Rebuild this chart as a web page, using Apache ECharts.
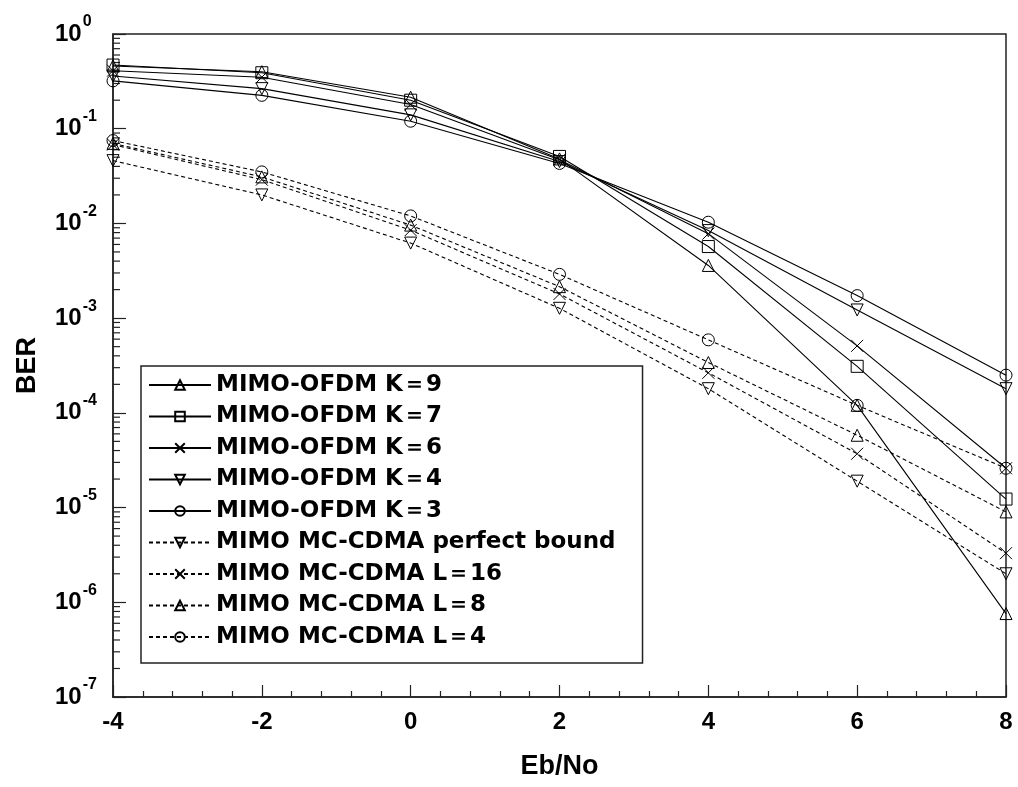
<!DOCTYPE html>
<html>
<head>
<meta charset="utf-8">
<script src="https://cdn.jsdelivr.net/npm/echarts@6/dist/echarts.min.js"></script>
<style>
  html, body { margin: 0; padding: 0; background: #fff; }
  #chart { width: 1018px; height: 787px; }
</style>
</head>
<body>
<div id="chart"></div>
<script>
// Eb/No sample points (dB)
const ebno = [-4, -2, 0, 2, 4, 6, 8];

// BER curves, MIMO-OFDM with K = 9, 7, 6, 4, 3
const ofdmK9 = [0.46, 0.40, 0.215, 0.048, 0.0036, 1.2e-4, 7.6e-7];
const ofdmK7 = [0.47, 0.39, 0.20, 0.051, 0.0057, 3.1e-4, 1.23e-5];
const ofdmK6 = [0.41, 0.35, 0.18, 0.047, 0.0078, 5.1e-4, 2.6e-5];
const ofdmK4 = [0.36, 0.265, 0.14, 0.045, 0.0084, 1.22e-3, 1.8e-4];
const ofdmK3 = [0.32, 0.225, 0.12, 0.043, 0.0103, 1.73e-3, 2.5e-4];

// BER curves, MIMO MC-CDMA
const cdmaPerfect = [0.046, 0.020, 0.0062, 0.00127, 1.8e-4, 1.9e-5, 2.0e-6];
const cdmaL16 = [0.068, 0.029, 0.0085, 0.00180, 2.65e-4, 3.7e-5, 3.3e-6];
const cdmaL8 = [0.070, 0.031, 0.0096, 0.00215, 3.4e-4, 5.8e-5, 9.0e-6];
const cdmaL4 = [0.075, 0.035, 0.012, 0.0029, 5.9e-4, 1.2e-4, 2.6e-5];

const seriesNames = [
  'MIMO-OFDM K\uFF1D9',
  'MIMO-OFDM K\uFF1D7',
  'MIMO-OFDM K\uFF1D6',
  'MIMO-OFDM K\uFF1D4',
  'MIMO-OFDM K\uFF1D3',
  'MIMO MC-CDMA perfect bound',
  'MIMO MC-CDMA L\uFF1D16',
  'MIMO MC-CDMA L\uFF1D8',
  'MIMO MC-CDMA L\uFF1D4'
];

// Decade range of the BER axis
const berMin = 1e-7;
const berMax = 1;

// Intermediate log ticks (2..9 within each decade)
const minorBer = [];
for (let e = -7; e < 0; e++) {
  for (let m = 2; m <= 9; m++) minorBer.push(m * Math.pow(10, e));
}

const CROSS = 'path://M0,0L10,10M10,0L0,10';
const FONT = 'Liberation Sans, Arial, sans-serif';

function curve(name, values, symbol, rotate, dashed) {
  return {
    name: name,
    type: 'line',
    data: ebno.map((x, i) => [x, values[i]]),
    symbol: symbol,
    symbolRotate: rotate,
    symbolSize: 12,
    showSymbol: true,
    clip: false,
    animation: false,
    lineStyle: { color: '#000', width: 1.1, type: dashed ? [4, 3] : 'solid' },
    itemStyle: { color: 'rgba(0,0,0,0)', borderColor: '#000', borderWidth: 1 },
    emphasis: { disabled: true }
  };
}

const chart = echarts.init(document.getElementById('chart'));

chart.setOption({
  backgroundColor: '#fff',
  animation: false,
  grid: {
    left: 113, right: 12, top: 34, bottom: 90,
    show: true, borderColor: '#222', borderWidth: 1.5,
    outerBoundsMode: 'none'
  },
  legend: {
    data: seriesNames,
    orient: 'vertical',
    left: 141, top: 366,
    padding: [7, 27, 14, 7],
    itemWidth: 62, itemHeight: 12, itemGap: 7.5,
    backgroundColor: '#fff',
    borderColor: '#222', borderWidth: 1.5,
    selectedMode: false,
    textStyle: {
      fontFamily: 'DejaVu Sans, sans-serif',
      fontWeight: 'bold', fontSize: 23, color: '#000', lineHeight: 24
    }
  },
  xAxis: {
    type: 'value',
    min: -4, max: 8, interval: 2,
    name: 'Eb/No',
    nameLocation: 'middle',
    nameGap: 56,
    nameTextStyle: { fontFamily: FONT, fontWeight: 'bold', fontSize: 27, color: '#000' },
    axisLine: { onZero: false, lineStyle: { color: '#222', width: 1.5 } },
    axisTick: { inside: true, length: 12, lineStyle: { color: '#222', width: 1.2 } },
    minorTick: { show: true, splitNumber: 5, length: 6, lineStyle: { color: '#222', width: 1.2 } },
    splitLine: { show: false },
    axisLabel: {
      margin: 13,
      fontFamily: FONT, fontWeight: 'bold', fontSize: 24, color: '#000'
    }
  },
  yAxis: {
    type: 'log',
    logBase: 10,
    min: berMin, max: berMax,
    interval: 1,
    splitNumber: 7,
    name: 'BER',
    nameLocation: 'middle',
    nameRotate: 90,
    nameGap: 72,
    nameTextStyle: { fontFamily: FONT, fontWeight: 'bold', fontSize: 27, color: '#000' },
    axisLine: { onZero: false, lineStyle: { color: '#222', width: 1.5 } },
    axisTick: { inside: true, length: 13, lineStyle: { color: '#222', width: 1.2 } },
    splitLine: { show: false },
    axisLabel: {
      margin: 58,
      align: 'left',
      formatter: function (v) {
        const e = Math.round(Math.log10(v));
        return '{b|10}{s|' + e + '}';
      },
      rich: {
        b: { fontFamily: FONT, fontWeight: 'bold', fontSize: 24, color: '#000', lineHeight: 40 },
        s: { fontFamily: FONT, fontWeight: 'bold', fontSize: 16, color: '#000', verticalAlign: 'top', padding: [0, 0, 0, 1] }
      }
    }
  },
  series: [
    curve(seriesNames[0], ofdmK9, 'triangle', 0, false),
    curve(seriesNames[1], ofdmK7, 'rect', 0, false),
    curve(seriesNames[2], ofdmK6, CROSS, 0, false),
    curve(seriesNames[3], ofdmK4, 'triangle', 180, false),
    curve(seriesNames[4], ofdmK3, 'circle', 0, false),
    curve(seriesNames[5], cdmaPerfect, 'triangle', 180, true),
    curve(seriesNames[6], cdmaL16, CROSS, 0, true),
    curve(seriesNames[7], cdmaL8, 'triangle', 0, true),
    curve(seriesNames[8], cdmaL4, 'circle', 0, true),
    {
      // short inward ticks at 2..9 of every decade on the BER axis
      name: 'minorTicks',
      type: 'custom',
      silent: true,
      clip: false,
      animation: false,
      z: 1,
      data: minorBer.map(v => [ebno[0], v]),
      renderItem: function (params, api) {
        const p = api.coord([api.value(0), api.value(1)]);
        return {
          type: 'line',
          shape: { x1: p[0], y1: p[1], x2: p[0] + 7, y2: p[1] },
          style: { stroke: '#222', lineWidth: 1.2 }
        };
      }
    }
  ]
});
</script>
</body>
</html>
